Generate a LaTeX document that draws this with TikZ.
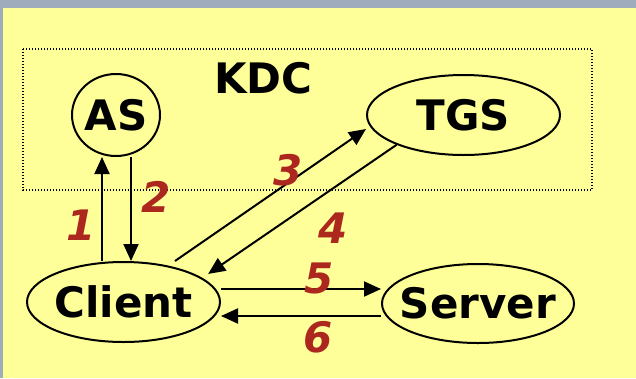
\documentclass[tikz,border=0pt]{standalone}
\usepackage{fontspec}
\setmainfont{DejaVu Sans}
\usetikzlibrary{arrows.meta,shapes.geometric}
\definecolor{bgyellow}{RGB}{255,255,153}
\definecolor{framegrey}{RGB}{158,172,188}
\definecolor{numred}{RGB}{172,40,30}
\newcommand{\ovaltext}[1]{\makebox[0pt]{#1}}
\begin{document}
\begin{tikzpicture}[x=1pt,y=1pt,
  oval/.style={ellipse, draw=black, line width=2pt, inner sep=0pt,
    font=\fontsize{42}{42}\selectfont\bfseries},
  title/.style={font=\fontsize{42}{42}\selectfont\bfseries, inner sep=0pt},
  stepnum/.style={font=\fontsize{42}{42}\selectfont\bfseries\itshape,
    text=numred, inner sep=0pt},
  flow/.style={line width=2pt, -{Triangle[length=17pt,width=15pt]}},
  kdcbox/.style={line width=2pt, dash pattern=on 1pt off 2pt},
]
\useasboundingbox (0,0) rectangle (636,-378);
% slide frame and background
\fill[framegrey] (0,0) rectangle (636,-378);
\fill[bgyellow] (3,-8) rectangle (636,-378);

% KDC boundary
\draw[kdcbox] (23,-49) rectangle (592,-190);
\node[title] (kdc) at (263.5,-78.5) {KDC};

% parties
\node[oval, minimum width=88pt, minimum height=82pt] (as) at (116,-115) {\ovaltext{AS}};
\node[oval, minimum width=193pt, minimum height=80pt] (tgs) at (463.5,-115) {\ovaltext{TGS}};
\node[oval, minimum width=193pt, minimum height=80pt] (client) at (123.5,-302) {\ovaltext{Client}};
\node[oval, minimum width=192pt, minimum height=79pt] (server) at (478,-303.5) {\ovaltext{Server}};

% message flows
\draw[flow] (client.north -| 102,0) -- (as.south -| 102,0);
\draw[flow] (as.south -| 131,0) -- (client.north -| 131,0);
\draw[flow] (client.north -| 175,0) -- (tgs.west |- 0,-129);
\draw[flow, shorten >=7pt] (tgs.204) -- (client.17);
\draw[flow] (client.east |- 0,-289) -- (server.west |- 0,-289);
\draw[flow] (server.west |- 0,-316) -- (client.east |- 0,-316);

% step numbers
\node[stepnum] (n1) at (81.5,-225.5) {1};
\node[stepnum] (n2) at (156,-197) {2};
\node[stepnum] (n3) at (288,-170.5) {3};
\node[stepnum] (n4) at (333,-228) {4};
\node[stepnum] (n5) at (319,-278) {5};
\node[stepnum] (n6) at (318.5,-337) {6};
\end{tikzpicture}
\end{document}
